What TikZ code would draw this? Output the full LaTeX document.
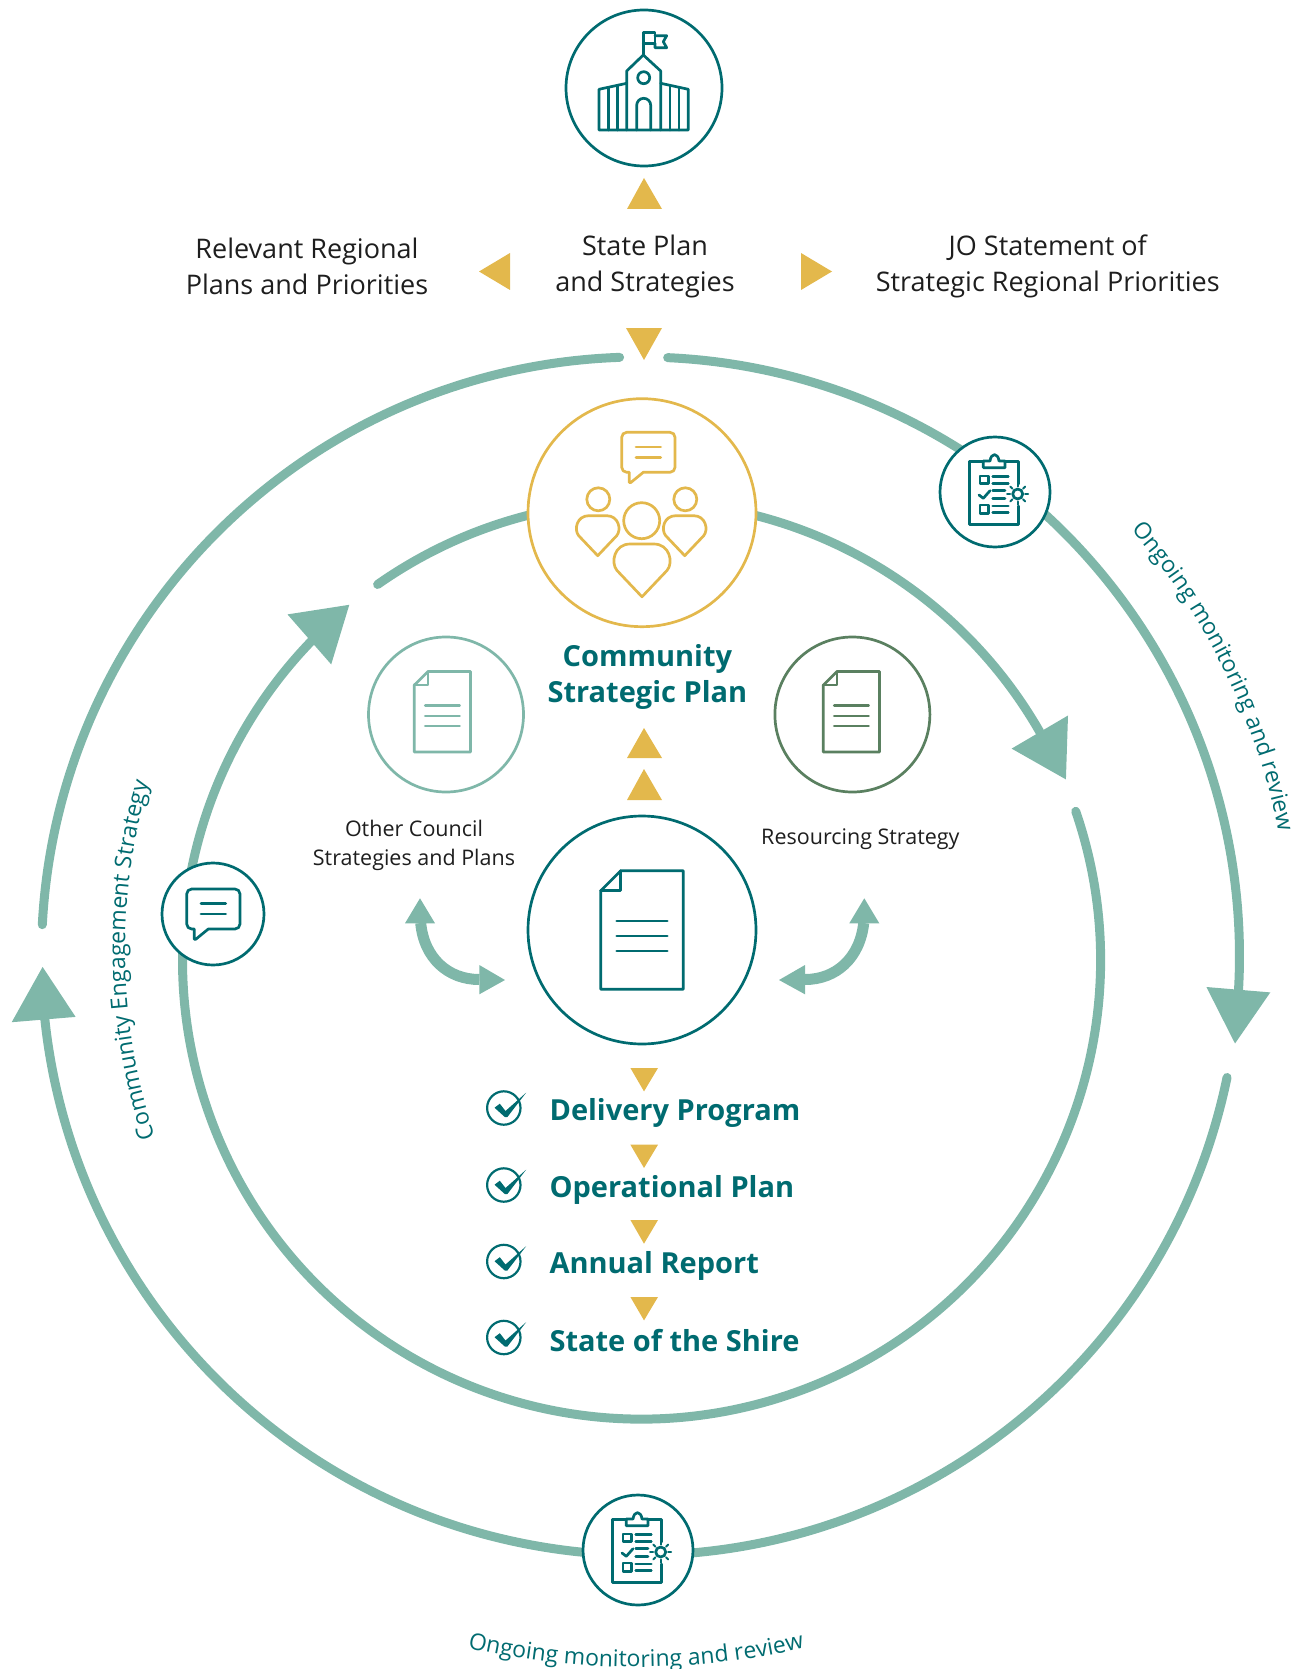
\documentclass[tikz,border=0pt]{standalone}
\usepackage{fontspec}
\setmainfont{Open Sans}
\usetikzlibrary{decorations.text}
\definecolor{tealc}{HTML}{006B70}
\definecolor{ringc}{HTML}{7FB7A9}
\definecolor{goldc}{HTML}{E3B84C}
\definecolor{leafc}{HTML}{5A8060}
\definecolor{inkc}{HTML}{1E1E1E}
\tikzset{
  ringline/.style={draw=ringc,line width=9pt,line cap=round},
  ringnode/.style={circle,draw=#1,line width=2.7pt,fill=white,inner sep=0pt,outer sep=0pt},
  icon/.style={draw=#1,line width=2.7pt,line join=round,line cap=round},
  goldtri/.style={fill=goldc},
  greentri/.style={fill=ringc},
  headtext/.style={text=inkc,align=center,font=\fontsize{27}{36}\selectfont},
  smalltext/.style={text=inkc,align=center,font=\fontsize{21.5}{29}\selectfont},
  boldtext/.style={text=tealc,align=center,font=\fontsize{29}{36}\selectfont\bfseries},
  listtext/.style={text=tealc,anchor=west,font=\fontsize{29}{36}\selectfont\bfseries},
}
\newcommand\curvefont{\fontsize{23}{28}\selectfont\color{tealc}}
\newcommand\clipicon[1]{%
\begin{scope}[shift={(#1)},icon=tealc]
  \draw[icon=tealc] (23.3,-8)--(23.3,-30.3)--(-25.7,-30.3)--(-25.7,32.3)--(23.3,32.3)--(23.3,14);
  \draw[icon=tealc,fill=white] (-11.7,-24.3)--(-11.7,-31)--(-5,-31) .. controls (-4,-39.5) and (3,-39.5) .. (4,-31)--(10,-31)--(10,-24.3)--cycle;
  \draw[icon=tealc] (-15,-16) rectangle (-6.7,-8.7);
  \draw[icon=tealc] (-15,13) rectangle (-6.7,21.3);
  \draw[icon=tealc] (-2.3,-15.3)--(13.3,-15.3) (-2.3,-8.7)--(13.3,-8.7) (-2.3,-1.3)--(10,-1.3) (-2.3,6.3)--(10,6.3) (-2.3,14)--(13.3,14) (-2.3,20.7)--(13.3,20.7);
  \draw[icon=tealc] (-16,3)--(-11.7,6.3)--(-5,-1.3);
  \draw[icon=tealc] (22.7,2) circle[radius=5];
  \foreach \a in {0,45,...,315} \draw[icon=tealc,line width=2pt] (22.7,2) ++(\a:7.5) -- ++(\a:3);
\end{scope}}
\newcommand\bubbleicon[2]{%
\begin{scope}[shift={(#1)}]
  \draw[icon=#2] (5,0)--(48.3,0) arc[start angle=-90,end angle=0,radius=5] --(53.3,35) arc[start angle=0,end angle=90,radius=5] --(21.6,40)--(9,50.3)--(7.6,50.3)--(7.6,40)--(5,40) arc[start angle=90,end angle=180,radius=5] --(0,5) arc[start angle=180,end angle=270,radius=5]--cycle;
  \draw[icon=#2] (14.3,14.7)--(39,14.7) (14.3,25)--(39,25);
\end{scope}}
\newcommand\docicon[3]{%
\begin{scope}[shift={(#1)},scale=#2]
  \draw[icon=#3] (-41.3,-39.3)--(-21.3,-59.2)--(41.3,-59.2)--(41.3,59.2)--(-41.3,59.2)--cycle;
  \draw[icon=#3] (-41.3,-39.3)--(-21.3,-39.3)--(-21.3,-59.2);
  \draw[icon=#3] (-25.3,-9)--(25.3,-9) (-25.3,6)--(25.3,6) (-25.3,21)--(25.3,21);
\end{scope}}
\newcommand\personicon[2]{%
\begin{scope}[shift={(#1)},scale=#2]
  \draw[icon=goldc] (0,40)--(-19,20) .. controls (-24,14) and (-21,0) .. (-9,0)--(9,0) .. controls (21,0) and (24,14) .. (19,20)--cycle;
\end{scope}}
\newcommand\checkicon[1]{%
\begin{scope}[shift={(#1)}]
  \draw[tealc,line width=2.2pt] (0,0) circle[radius=16.7];
  \fill[tealc] (-9.3,-0.3)--(-4,-4.3)--(1.7,3)--(22.3,-15.3)--(3.6,9)--(1,9)--cycle;
\end{scope}}
\begin{document}
\begin{tikzpicture}[x=1pt,y=-1pt]
\useasboundingbox (0,0) rectangle (1314,1669);
% outer ring
\draw[ringline] (640.5,956) ++(-87.4:599) arc[start angle=-87.4,end angle=3.3,radius=599];
\draw[ringline] (640.5,956) ++(11.7:599) arc[start angle=11.7,end angle=174,radius=599];
\draw[ringline] (640.5,956) ++(183:599) arc[start angle=183,end angle=268,radius=599];
\fill[greentri] (1235,1043.5)--(1206.4,987)--(1270.3,992.4)--cycle;
\fill[greentri] (42.6,966.9)--(11.7,1022.2)--(75.6,1016.9)--cycle;
% inner ring
\draw[ringline] (641.5,960) ++(-75.6:459) arc[start angle=-75.6,end angle=-29.8,radius=459];
\draw[ringline] (641.5,960) ++(-18.9:459) arc[start angle=-18.9,end angle=224,radius=459];
\draw[ringline] (641.5,960) ++(234.9:459) arc[start angle=234.9,end angle=255.7,radius=459];
\fill[greentri] (1065.9,779.4)--(1011.6,748.6)--(1068,715.5)--cycle;
\fill[greentri] (349.3,604.8)--(287.5,614.4)--(331.2,664.4)--cycle;
% circles
\node[ringnode=tealc,minimum size=156pt] (state) at (644,88) {};
\node[ringnode=goldc,minimum size=228pt] (csp) at (642,512.7) {};
\node[ringnode=tealc,minimum size=228pt] (doc) at (642,930) {};
\node[ringnode=ringc,minimum size=155pt] (other) at (446,714.5) {};
\node[ringnode=leafc,minimum size=155pt] (res) at (852.4,714.5) {};
\node[ringnode=tealc,minimum size=110pt] (monr) at (995,492) {};
\node[ringnode=tealc,minimum size=110pt] (monb) at (638,1550) {};
\node[ringnode=tealc,minimum size=102pt] (eng) at (213,914) {};
% school icon
\draw[icon=tealc] (643.3,55)--(643.3,32.3)--(655,32.3)--(655,43.3)--(643.3,43.3);
\draw[icon=tealc] (655,35.7)--(666.7,35.7)--(663.3,41.7)--(666.7,47.7)--(655,47.7)--(655,43.3);
\draw[icon=tealc] (626.7,130)--(626.7,71)--(643.3,55)--(660.7,71)--(660.7,130);
\draw[icon=tealc] (643.7,77.7) circle[radius=6];
\draw[icon=tealc] (636.7,130)--(636.7,105.3) arc[start angle=180,end angle=360,radius=7]--(650.7,130);
\draw[icon=tealc] (626.7,83.3)--(599,89.3)--(599,130)--(688.3,130)--(688.3,89.3)--(660.7,83.3);
\draw[icon=tealc] (608.3,87.4)--(608.3,130) (617.7,85.4)--(617.7,130) (670,85.4)--(670,130) (679,87.4)--(679,130);
% community icon
\bubbleicon{621.7,432.3}{goldc}
\draw[icon=goldc] (598.3,499.3) circle[radius=11.5];
\draw[icon=goldc] (685.3,499.3) circle[radius=11.5];
\draw[icon=goldc] (641.7,520.7) circle[radius=18];
\personicon{597.7,515.7}{1}
\personicon{684.7,515.7}{1}
\personicon{642,544}{1.32}
% docs
\docicon{642,930}{1}{tealc}
\docicon{442.4,711.8}{0.68}{ringc}
\docicon{851.4,711.8}{0.68}{leafc}
% clipboards and bubble
\clipicon{995,492}
\clipicon{638,1550}
\bubbleicon{186.7,889}{tealc}
% gold triangles
\fill[goldtri] (644,178)--(627,209)--(662,209)--cycle;
\fill[goldtri] (644,360)--(626,328)--(662,328)--cycle;
\fill[goldtri] (479,271.5)--(510,253)--(510,290)--cycle;
\fill[goldtri] (832,271.5)--(801,253)--(801,290)--cycle;
\fill[goldtri] (644,728)--(627,758)--(662,758)--cycle;
\fill[goldtri] (644,769)--(627,800)--(662,800)--cycle;
\fill[goldtri] (644,1091.4)--(630.4,1068)--(658,1068)--cycle;
\fill[goldtri] (644,1168)--(630.4,1144.7)--(658,1144.7)--cycle;
\fill[goldtri] (644,1243.7)--(630.4,1220)--(658,1220)--cycle;
\fill[goldtri] (644,1320.4)--(630.4,1297)--(658,1297)--cycle;
% double arrows
\draw[draw=ringc,line width=11pt] (420.7,923) .. controls (424,958) and (448,979.5) .. (479.3,979.5);
\fill[greentri] (420,898.3)--(405,923.3)--(435,923.3)--cycle;
\fill[greentri] (505,980)--(479.3,965)--(479.3,994.3)--cycle;
\draw[draw=ringc,line width=11pt] (863.7,923) .. controls (860,958) and (836,979.5) .. (805,979.5);
\fill[greentri] (864.3,898.3)--(849.3,923.3)--(879.3,923.3)--cycle;
\fill[greentri] (779,980)--(805,965)--(805,994.3)--cycle;
% texts
\node[headtext] (t1) at (307,266) {Relevant Regional\\Plans and Priorities};
\node[headtext] (t2) at (645,266) {State Plan\\and Strategies};
\node[headtext] (t3) at (1047.8,266) {JO Statement of\\Strategic Regional Priorities};
\node[boldtext] (t4) at (647.4,677) {Community\\Strategic Plan};
\node[smalltext] (t5) at (414,845.5) {Other Council\\Strategies and Plans};
\node[smalltext] (t6) at (860.4,839) {Resourcing Strategy};
\checkicon{503.8,1108}
\checkicon{503.8,1185}
\checkicon{503.8,1261.5}
\checkicon{503.8,1337.5}
\node[listtext] (l1) at (546,1113) {Delivery Program};
\node[listtext] (l2) at (546,1189.5) {Operational Plan};
\node[listtext] (l3) at (546,1266) {Annual Report};
\node[listtext] (l4) at (546,1340.5) {State of the Shire};
% curved labels
\path[decorate,decoration={text along path,text align=center,text={|\curvefont|Ongoing monitoring and review}}]
  (640.5,956) ++(-44:650) arc[start angle=-44,end angle=-8,radius=650];
\path[decorate,decoration={text along path,text align=center,text={|\curvefont|Ongoing monitoring and review}}]
  (636,912) ++(106:755) arc[start angle=106,end angle=74,radius=755];
\path[decorate,decoration={text along path,text align=center,text={|\curvefont|Community Engagement Strategy}}]
  (725,950) ++(158:600) arc[start angle=158,end angle=200,radius=600];
\end{tikzpicture}
\end{document}
